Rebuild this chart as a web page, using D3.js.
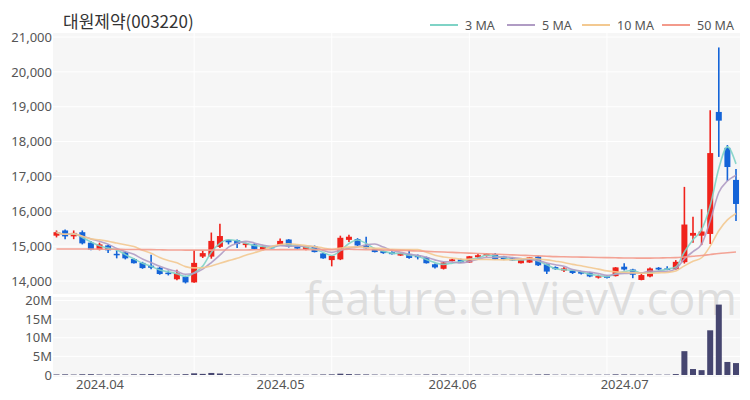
<!DOCTYPE html>
<html><head><meta charset="utf-8">
<script src="https://cdn.jsdelivr.net/npm/d3@7"></script>
<style>body{margin:0;background:#fff}svg{display:block}</style>
</head><body><svg id="c" width="750" height="400"></svg>
<script>
const title = "대원제약(003220)";
// trading days Mar 25 – Jul 18, 2024
const holidays = ["2024-04-10","2024-05-01","2024-05-06","2024-05-15"];
const dates = (function(){const out=[];let d=new Date(Date.UTC(2024,2,25));const end=new Date(Date.UTC(2024,6,18));
  while(d<=end){const w=d.getUTCDay();const s=d.toISOString().slice(0,10);if(w!==0&&w!==6&&!holidays.includes(s))out.push(s);d=new Date(d.getTime()+86400000);}return out;})();
const open  = [15300,15450,15280,15400,15100,14900,15020,14780,14820,14630,14520,14440,14380,14240,14050,14120,13960,14700,14700,14980,
               15180,15170,15030,15050,14900,14980,15040,15190,15000,14900,15000,14790,14600,14620,15180,15200,15020,14920,14860,14830,
               14730,14770,14730,14680,14480,14350,14570,14620,14530,14680,14720,14770,14700,14650,14510,14530,14700,14480,14400,14300,
               14300,14270,14240,14100,14140,14140,14410,14330,14030,14130,14380,14360,14340,14540,15300,15300,15350,18850,17820,16900];
const high  = [15450,15480,15450,15450,15150,15100,15050,14880,14850,14650,14550,14750,14400,14300,14320,14150,14890,14870,15390,15640,
               15200,15190,15100,15080,15000,15000,15220,15200,15020,15000,15020,14800,14730,15300,15330,15230,15270,14940,14880,14850,
               14800,14880,14760,14700,14500,14550,14640,14640,14720,14780,14800,14800,14720,14670,14640,14690,14720,14500,14420,14400,
               14310,14290,14260,14180,14160,14400,14510,14350,14200,14390,14400,14420,14600,16700,15840,16060,18900,20700,17900,17210];
const low   = [15250,15200,15200,15050,14880,14880,14800,14650,14620,14500,14350,14340,14180,14160,14020,13930,13950,14660,14640,14950,
               15050,14950,14960,14900,14880,14930,15020,14960,14910,14880,14820,14640,14420,14600,15120,15000,14930,14820,14780,14760,
               14720,14640,14620,14500,14360,14330,14560,14520,14520,14650,14700,14600,14600,14580,14500,14520,14430,14200,14320,14260,
               14200,14190,14110,14070,14070,14130,14300,14080,14020,14110,14310,14310,14320,14500,15100,15030,15060,17560,16870,15720];
const close = [15400,15280,15380,15080,14900,15050,14880,14740,14650,14510,14370,14380,14200,14210,14220,13960,14520,14800,15150,15290,
               15110,15060,15080,14920,14980,14950,15150,14990,14930,14980,14830,14650,14720,15240,15270,15020,14940,14830,14800,14770,
               14790,14660,14680,14510,14390,14530,14620,14530,14710,14740,14780,14620,14620,14590,14600,14680,14450,14270,14340,14360,
               14230,14210,14130,14140,14090,14390,14330,14180,14170,14360,14330,14330,14550,15620,15380,15420,17670,18600,17270,16210];
const volume= [0.15,0.18,0.12,0.20,0.22,0.15,0.14,0.16,0.13,0.17,0.20,0.25,0.18,0.15,0.16,0.22,0.45,0.30,0.55,0.40,
               0.20,0.15,0.12,0.14,0.12,0.10,0.15,0.14,0.12,0.10,0.12,0.15,0.18,0.35,0.25,0.18,0.16,0.12,0.10,0.10,
               0.10,0.12,0.10,0.14,0.15,0.14,0.10,0.10,0.12,0.12,0.10,0.11,0.10,0.10,0.10,0.12,0.15,0.18,0.10,0.10,
               0.10,0.10,0.12,0.10,0.10,0.18,0.15,0.14,0.12,0.15,0.10,0.10,0.25,6.4,1.6,1.3,12.0,18.9,3.5,3.2].map(v=>v*1e6);
const ma50  = [14920,14920,14920,14920,14915,14915,14910,14910,14905,14905,14900,14900,14895,14890,14890,14885,14885,14885,14885,14890,
               14890,14890,14890,14895,14895,14895,14900,14900,14900,14900,14900,14900,14900,14905,14910,14905,14900,14895,14890,14885,
               14880,14870,14860,14850,14840,14830,14820,14810,14800,14790,14780,14770,14760,14750,14740,14730,14720,14710,14700,14695,
               14690,14685,14680,14675,14670,14665,14660,14660,14655,14655,14660,14665,14670,14690,14710,14730,14760,14790,14810,14830];
const priceTicks = [14000,15000,16000,17000,18000,19000,20000,21000];
const volTicks = [0,5e6,10e6,15e6,20e6];
const monthTicks = ["2024-04-01","2024-05-02","2024-06-03","2024-07-01"];
const maSpecs = [{n:3,label:"3 MA",color:"#7fd3c6"},{n:5,label:"5 MA",color:"#b09cc4"},{n:10,label:"10 MA",color:"#f3c991"},{n:50,label:"50 MA",color:"#f39a8b"}];

const svg = d3.select("#c");
const L=53, R=740, PT=33, PB=294, VT=297, VB=377;
const x = d3.scalePoint().domain(dates).range([56.5,736]);
const y = d3.scaleLinear().domain([14000,21000]).range([281,37]);
const yv = d3.scaleLinear().domain([0,20e6]).range([375,300.5]);
const FONT = "'Noto Sans','Noto Sans CJK KR',sans-serif";

// panels
svg.append("rect").attr("x",L).attr("y",PT).attr("width",R-L).attr("height",PB-PT).attr("fill","#f6f6f6");
svg.append("rect").attr("x",L).attr("y",VT).attr("width",R-L).attr("height",VB-VT).attr("fill","#f6f6f6");
const grid = svg.append("g").attr("stroke","#ffffff").attr("stroke-width",1);
priceTicks.forEach(t=>grid.append("line").attr("x1",L).attr("x2",R).attr("y1",y(t)).attr("y2",y(t)));
volTicks.forEach(t=>grid.append("line").attr("x1",L).attr("x2",R).attr("y1",yv(t)).attr("y2",yv(t)));
[16,32,48,64].forEach(i=>{const xx=x(dates[i]);
  grid.append("line").attr("x1",xx).attr("x2",xx).attr("y1",PT).attr("y2",PB);
  grid.append("line").attr("x1",xx).attr("x2",xx).attr("y1",VT).attr("y2",VB);});

// watermark
svg.append("text").attr("x",737).attr("y",315).attr("text-anchor","end").attr("font-family","'Open Sans',sans-serif")
  .attr("font-size",45).attr("fill","#d6d6d6").attr("fill-opacity",0.8).text("feature.enVievV.com");

// axes
const yAxis = d3.axisLeft(y).tickValues(priceTicks).tickFormat(d3.format(",")).tickSize(0).tickPadding(0);
const ga = svg.append("g").attr("transform",`translate(${L-1},0)`).call(yAxis);
const yvAxis = d3.axisLeft(yv).tickValues(volTicks).tickFormat(d=>d===0?"0":(d/1e6)+"M").tickSize(0).tickPadding(0);
const gv = svg.append("g").attr("transform",`translate(${L-1},0)`).call(yvAxis);
const xAxis = d3.axisBottom(x).tickValues(monthTicks).tickFormat(d=>d.slice(0,7).replace("-",".")).tickSize(0).tickPadding(0);
const gx = svg.append("g").attr("transform",`translate(0,378)`).call(xAxis);
[ga,gv,gx].forEach(g=>{g.select(".domain").remove();g.selectAll("text").attr("font-family",FONT).attr("font-size",13).attr("fill","#555");});
gx.selectAll("text").attr("dy","0.71em").attr("y",2);

// volume
const bw = 6;
svg.append("g").selectAll("rect").data(dates).join("rect")
  .attr("x",d=>x(d)-bw/2).attr("width",bw)
  .attr("y",(d,i)=>yv(volume[i])).attr("height",(d,i)=>yv(0)-yv(volume[i]))
  .attr("fill","#464670");

// candles
const up="#f0221b", dn="#1464d8";
const cg = svg.append("g");
dates.forEach((d,i)=>{
  const c = close[i]>=open[i]?up:dn; const cx=x(d);
  cg.append("line").attr("x1",cx).attr("x2",cx).attr("y1",y(high[i])).attr("y2",y(low[i])).attr("stroke",c).attr("stroke-width",1.6);
  const top=y(Math.max(open[i],close[i])), bot=y(Math.min(open[i],close[i]));
  cg.append("rect").attr("x",cx-bw/2).attr("width",bw).attr("y",top).attr("height",Math.max(1.5,bot-top)).attr("fill",c);
});

// moving averages
function ma(n){return close.map((v,i)=>{const s=close.slice(Math.max(0,i-n+1),i+1);return d3.mean(s);});}
const line = d3.line().x((v,i)=>x(dates[i])).y(v=>y(v)).curve(d3.curveMonotoneX);
maSpecs.forEach(s=>{
  const vals = s.n===50?ma50:ma(s.n);
  svg.append("path").attr("d",line(vals)).attr("fill","none").attr("stroke",s.color).attr("stroke-width",1.6).attr("stroke-opacity",0.9);
});

// title
svg.append("text").attr("x",63).attr("y",28).attr("font-family","'Noto Sans CJK KR',sans-serif").attr("font-size",17).attr("fill","#333").text(title);

// legend
const lx=[430,507,582,662];
maSpecs.forEach((s,i)=>{
  svg.append("line").attr("x1",lx[i]).attr("x2",lx[i]+28).attr("y1",25).attr("y2",25).attr("stroke",s.color).attr("stroke-width",2);
  svg.append("text").attr("x",lx[i]+35).attr("y",29.5).attr("font-family",FONT).attr("font-size",12.5).attr("fill","#555").text(s.label);
});
</script></body></html>
